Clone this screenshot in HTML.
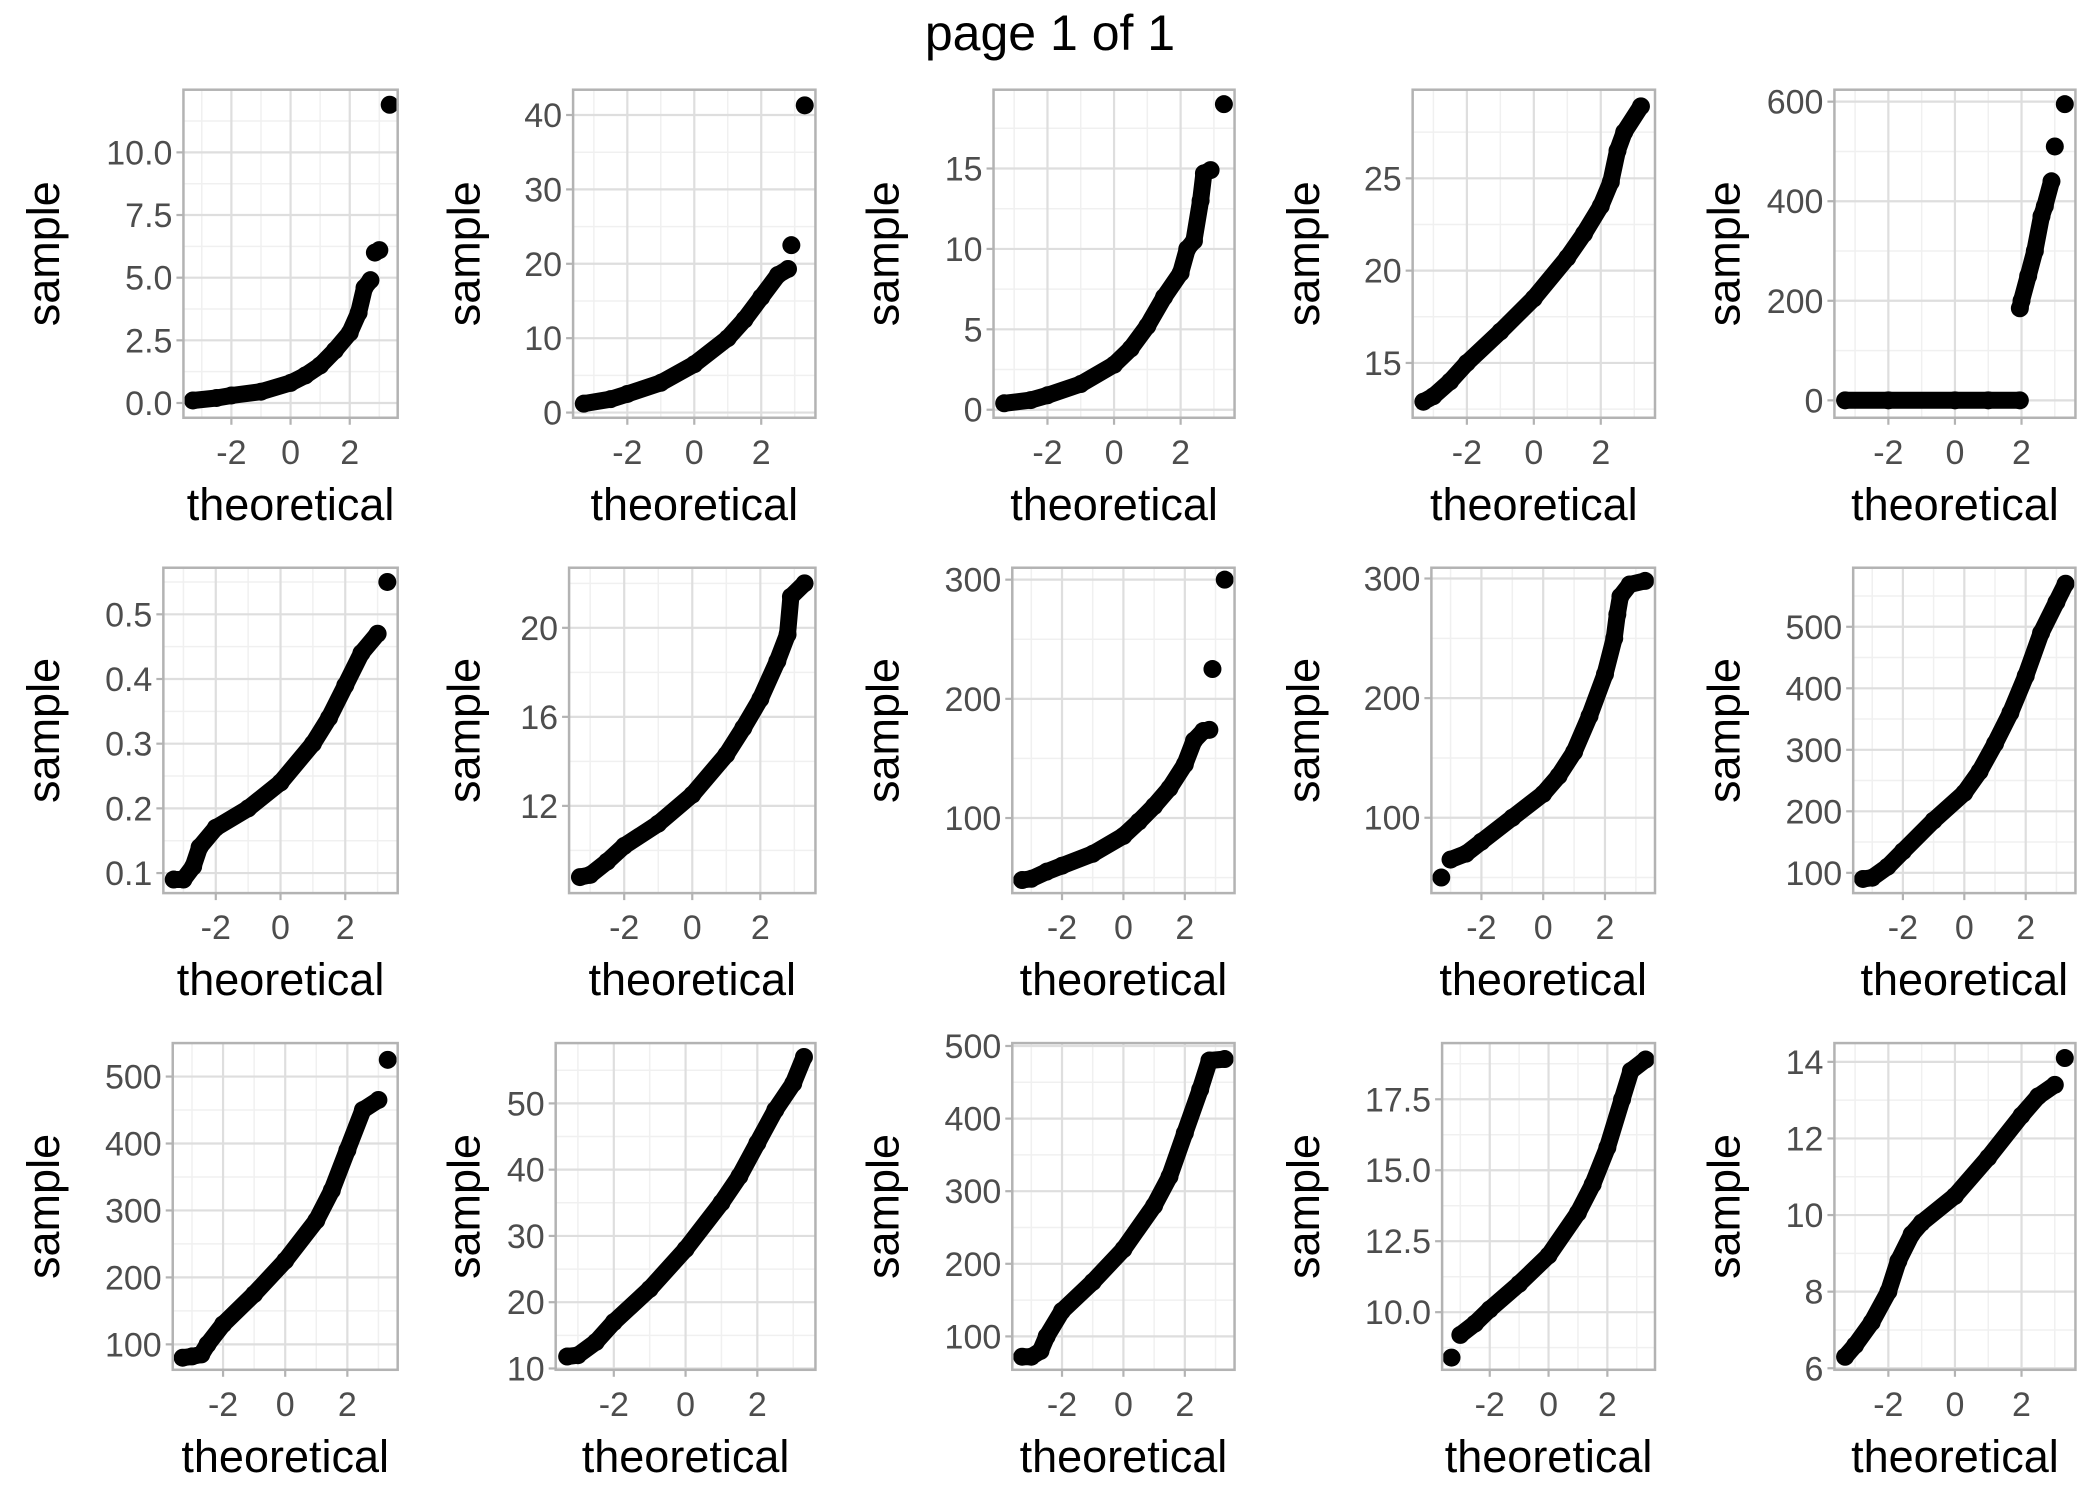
<!DOCTYPE html>
<html><head><meta charset="utf-8"><style>
html,body{margin:0;padding:0;background:#fff}
svg{display:block}
text{font-family:"Liberation Sans",sans-serif}
</style></head><body>
<svg id="chart" width="2100" height="1499" viewBox="0 0 2100 1499" xmlns="http://www.w3.org/2000/svg">
<rect width="2100" height="1499" fill="#fff"/>
<text x="1050" y="50" text-anchor="middle" font-size="50" fill="#000">page 1 of 1</text>
</svg>
<script>
// Data (null = break in the dense curve)
const theoretical = [
[-3.3,-2.5,-2,-1,0,0.5,1,1.5,2,2.3,2.5,2.7,null,2.85,3.0,null,3.35],
[-3.3,-2.5,-2,-1,0,1,1.5,2,2.5,2.8,null,2.9,null,3.3],
[-3.3,-2.5,-2,-1,0,0.5,1,1.5,2,2.2,2.4,2.6,2.7,2.9,null,3.3],
[-3.3,-3,-2.5,-2,-1,0,1,1.5,2,2.3,2.5,2.7,3.2],
[-3.3,-2,0,1,1.95,null,1.95,2,2.2,2.4,2.6,2.7,2.9,null,3.0,null,3.3],
[-3.3,-3,-2.7,-2.5,-2,-1,0,1,1.5,2,2.5,3,null,3.3],
[-3.3,-3,-2.5,-2,-1,0,1,1.5,2,2.5,2.8,2.9,3.3],
[-3.3,-3,-2.5,-2,-1,0,0.5,1,1.5,2,2.3,2.6,2.8,null,2.9,null,3.3],
[-3.3,null,-3,-2.5,-2,-1,0,0.5,1,1.5,2,2.3,2.4,2.5,2.8,3.3],
[-3.3,-3,-2.5,-2,-1,0,0.5,1,1.5,2,2.5,3,3.3],
[-3.3,-3,-2.7,-2.5,-2,-1,0,1,1.5,2,2.5,3,null,3.3],
[-3.3,-3,-2.5,-2,-1,0,1,1.5,2,2.5,3,3.3],
[-3.3,-3,-2.7,-2.5,-2,-1,0,1,1.5,2,2.5,2.8,3.3],
[-3.3,null,-3,-2.5,-2,-1,0,1,1.5,2,2.5,2.8,3.3],
[-3.3,-3,-2.5,-2,-1.7,-1.3,-1,0,1,2,2.5,3,null,3.3]
];
const samples = [
[0.1,0.2,0.3,0.45,0.8,1.1,1.5,2.1,2.8,3.6,4.6,4.9,null,6.0,6.1,null,11.9],
[1.2,1.8,2.5,4,6.5,10,12.5,15.5,18.5,19.3,null,22.5,null,41.3],
[0.4,0.6,0.9,1.6,2.8,3.8,5.2,7,8.5,10,10.5,13,14.7,14.9,null,19],
[12.9,13.2,14,15,16.7,18.5,20.7,22,23.5,24.8,26.5,27.5,28.9],
[0,0,0,0,0,null,185,200,250,300,370,390,440,null,510,null,595],
[0.09,0.09,0.11,0.14,0.17,0.2,0.24,0.3,0.34,0.39,0.44,0.47,null,0.55],
[8.8,8.9,9.5,10.2,11.2,12.5,14.3,15.5,16.8,18.5,19.7,21.4,22],
[48,49,55,60,70,85,97,110,125,145,165,173,174,null,225,null,300],
[50,null,65,70,80,100,120,135,155,185,220,250,270,285,295,298],
[90,92,110,135,185,230,265,310,360,420,490,540,570],
[80,82,85,100,130,175,225,285,330,390,450,465,null,525],
[11.8,12,14,17,22,28,35,39,44,49,53,57],
[72,72,80,100,135,175,220,280,320,380,440,480,482],
[8.4,null,9.2,9.6,10.1,11,12,13.5,14.5,15.8,17.5,18.5,18.9],
[6.3,6.6,7.2,8,8.8,9.5,9.8,10.5,11.5,12.6,13.1,13.4,null,14.1]
];
const yTickLabels = [
["0.0","2.5","5.0","7.5","10.0"],["0","10","20","30","40"],["0","5","10","15"],["15","20","25"],["0","200","400","600"],
["0.1","0.2","0.3","0.4","0.5"],["12","16","20"],["100","200","300"],["100","200","300"],["100","200","300","400","500"],
["100","200","300","400","500"],["10","20","30","40","50"],["100","200","300","400","500"],["10.0","12.5","15.0","17.5"],["6","8","10","12","14"]
];
const yDomains = [
[-0.59,12.5],[-0.7,43.4],[-0.5,19.9],[12.03,29.8],[-35,624],
[0.069,0.572],[8.08,22.7],[37,310],[37,309],[67,596],
[62,550],[9.8,59.1],[54,504],[7.97,19.48],[5.96,14.49]
];
const xTickLabels = ["-2","0","2"];
const xTicks = [-2,0,2];

const S = 1.339;
const NS = "http://www.w3.org/2000/svg";
const svg = document.getElementById('chart');
const lefts = [[137,428,742,1055,1370],[122,425,756,1069,1384],[129,415,756,1077,1370]];
const rights = [297,609,922,1236,1550];
const tops = [67,424,779], bottoms = [312,667,1023];
const labelX = [33,347,660,974,1288];
const xDom = [-3.62,3.62];
function mk(tag, attrs, parent){const e=document.createElementNS(NS,tag);for(const k in attrs)e.setAttribute(k,attrs[k]);parent.appendChild(e);return e;}

for(let p=0;p<15;p++){
  const r=Math.floor(p/5), c=p%5;
  const L=lefts[r][c]*S, R=rights[c]*S, T=tops[r]*S, B=bottoms[r]*S;
  const yd=yDomains[p];
  const xs=v=>L+(v-xDom[0])/(xDom[1]-xDom[0])*(R-L);
  const ys=v=>B-(v-yd[0])/(yd[1]-yd[0])*(B-T);
  const g=mk('g',{},svg);
  
  
  mk('rect',{x:L,y:T,width:R-L,height:B-T,fill:'#fff'},g);
  const yt=yTickLabels[p].map(Number);
  const step=yt.length>1?yt[1]-yt[0]:1;
  for(let v=yt[0]-step/2; v<=yd[1]; v+=step){ if(v>=yd[0]) mk('line',{x1:L,x2:R,y1:ys(v),y2:ys(v),stroke:'#f0f0f0','stroke-width':1.5},g); }
  [-3,-1,1,3].forEach(v=>mk('line',{x1:xs(v),x2:xs(v),y1:T,y2:B,stroke:'#f0f0f0','stroke-width':1.5},g));
  yt.forEach(v=>mk('line',{x1:L,x2:R,y1:ys(v),y2:ys(v),stroke:'#dedede','stroke-width':2.2},g));
  xTicks.forEach(v=>mk('line',{x1:xs(v),x2:xs(v),y1:T,y2:B,stroke:'#dedede','stroke-width':2.2},g));
  const th=theoretical[p], sm=samples[p];
  let seg=[];
  const flush=()=>{ if(seg.length>1){ const pl=mk('polyline',{points:seg.map(q=>q.join(',')).join(' '),fill:'none',stroke:'#000','stroke-width':17,'stroke-linejoin':'round','stroke-linecap':'round'},g);   } seg=[]; };
  for(let i=0;i<th.length;i++){
    if(th[i]===null){flush();continue;}
    const px=xs(th[i]), py=ys(sm[i]);
    seg.push([px.toFixed(1),py.toFixed(1)]);
    const ci=mk('circle',{cx:px,cy:py,r:9,fill:'#000'},g);
    
    
  }
  flush();
  mk('rect',{x:L,y:T,width:R-L,height:B-T,fill:'none',stroke:'#b3b3b3','stroke-width':2.5},g);
  yt.forEach((v,i)=>{
    mk('line',{x1:L-7,x2:L,y1:ys(v),y2:ys(v),stroke:'#b3b3b3','stroke-width':2.2},g);
    const t=mk('text',{x:L-11,y:ys(v)+12,'text-anchor':'end','font-size':34,fill:'#4d4d4d'},g);
    t.textContent=yTickLabels[p][i];
    
    
  });
  xTicks.forEach((v,i)=>{
    mk('line',{x1:xs(v),x2:xs(v),y1:B,y2:B+7,stroke:'#b3b3b3','stroke-width':2.2},g);
    const t=mk('text',{x:xs(v),y:B+46,'text-anchor':'middle','font-size':34,fill:'#4d4d4d'},g);
    t.textContent=xTickLabels[i];
    
    
  });
  const xt=mk('text',{x:(L+R)/2,y:B+102,'text-anchor':'middle','font-size':45,fill:'#000'},g);
  xt.textContent='theoretical';
  
  
  const cx=labelX[c]*S+15, cy=(T+B)/2;
  const ytl=mk('text',{x:cx,y:cy,'text-anchor':'middle','font-size':45,fill:'#000',transform:`rotate(-90 ${cx} ${cy})`},g);
  ytl.textContent='sample';
  
  
}
</script>
</body></html>
